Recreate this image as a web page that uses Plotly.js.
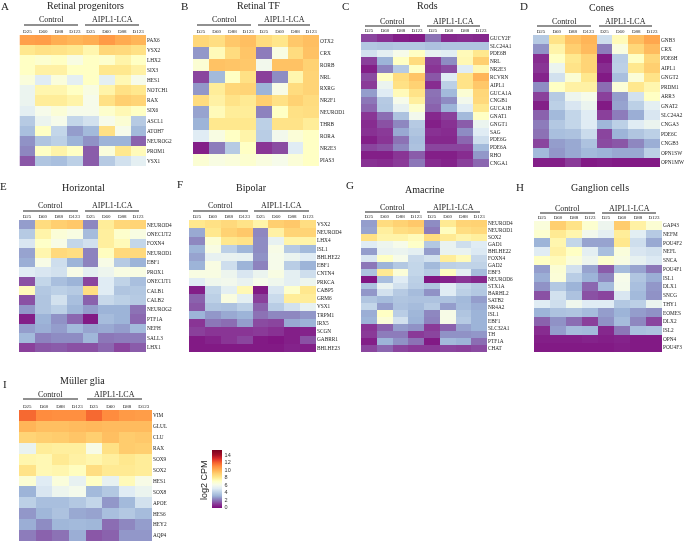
<!DOCTYPE html>
<html><head><meta charset="utf-8">
<script src="https://cdn.plot.ly/plotly-3.0.1.min.js"></script>
<style>html,body{margin:0;padding:0;background:#fff}#chart{filter:blur(0.4px)}</style></head>
<body><div id="chart" style="width:685px;height:542px"></div>
<script>
const timepoints=['D25','D60','D88','D123','D25 ','D60 ','D88 ','D123 '];
const groupNames=['Control','AIPL1-LCA'];
const colorValues=[0,0.8,1.5,2.3,3,4,5,6,7,8,9,10,11,12,13,14,15.35];
const colorHex=['#7e0a7c','#8a3a98','#8a62ad','#8e8cc3','#9db4d8','#bcd0e6','#e0ecf4','#f6fbea','#ffffc4','#ffe88e','#ffcf70','#ffae52','#ff8c3e','#f4602e','#dc2a2a','#a50f26','#7a0020'];

const genesA=['PAX6','VSX2','LHX2','SIX3','HES1','NOTCH1','RAX','SIX6','ASCL1','ATOH7','NEUROG2','PROM1','VSX1'];
const valuesA=[
[10.4,10.5,10,9.8,10,10.6,10.1,9.8],[8,8.3,8.2,8,7.4,8.7,8.6,8.3],[7,6.7,7,6.2,7,6.8,7.5,7],[7,7.6,7.6,7,7,8,8,7.6],
[6.4,5,6.4,5.2,7,5.2,7.3,6],[5.5,7.4,7.4,7,6.2,7.5,8.3,8],[5.5,7.8,7.8,7.5,6,8.3,9,8.8],[5.2,6,6.5,6,6,6.8,7.3,7],
[3.8,5.5,6,4.2,4.6,6,6.6,3.8],[3.4,7,4.2,2.6,3.2,8.3,6,3.2],[2.4,3.6,4,3,2.4,3,3,1.5],[2.2,7,7.5,7,1.4,6.4,8,7.2],[1.3,3.6,3.4,4,1.4,3.8,4.6,5.2]];

const genesB=['OTX2','CRX','RORB','NRL','RXRG','NR2F1','NEUROD1','THRB','RORA','NR2E3','PIAS3'];
const valuesB=[
[8.7,8.4,9.2,9.5,8.5,8.1,9.2,9.5],[2.5,7.2,8.5,9.3,2,6.2,8.5,9.4],[6.6,9.4,9.3,9.2,5.8,9.4,9.4,8.9],[1,3.2,7,8.3,0.9,2.3,7.4,8.8],
[2.5,7.8,8.7,8.8,3,6.1,8.5,8.8],[8.5,7.6,8.2,7.9,9,8.3,8.9,8.5],[2.7,7.2,7.8,7.8,2.1,7,8.3,8.4],[3,8,8,8,4,8.2,8.2,7.8],
[5,6.2,7,7.5,3.9,5.8,6.5,7],[0.2,2,3.8,7,0.7,1.1,5,7],[6.6,6.2,6.4,6.7,6.3,6,6.5,7]];

const genesC=['GUCY2F','SLC24A1','PDE6B','NRL','NR2E3','RCVRN','AIPL1','GUCA1A','CNGB1','GUCA1B','GNAT1','GNGT1','SAG','PDE6G','PDE6A','RHO','CNGA1'];
const valuesC=[
[1,0.6,0.2,0.1,1.8,0.4,0.5,0.4],[3.7,3.6,3.7,3.7,3.5,3.6,3.6,3.6],[4.6,5.2,6,7,5.3,5.1,7.2,8],[0.9,3,7,8.5,0.9,2.3,7.3,9],
[0.2,2.1,3.8,7,0.7,1.1,5,7.3],[1.1,7,8.5,9.3,1.3,5,8.2,9.8],[0.8,5.5,8.3,8.9,0.5,4,8.2,9.2],[2.6,5,7.2,8.2,1.8,3.2,6.6,8.7],
[1.9,3.8,6,7.7,1.7,2.3,5.8,8.6],[1.6,3.7,5.3,6.8,1.5,3,5,8],[0.7,1.7,3.5,5.8,0.4,0.9,3.2,7],[0.5,1.2,2.2,3.8,0.2,0.6,1.4,5.5],
[0.6,0.8,2.8,3.6,0.6,0.5,2.3,5],[0.2,0.7,1.8,3.4,0.4,0.4,1.6,4.5],[1,1.2,2.2,3.5,1,1,1,3.2],[0.2,0.2,0.7,1.4,0.2,0.2,0.5,2.5],[0.6,0.5,0.8,1.9,0.5,0.3,0.9,1.6]];

const genesD=['GNB3','CRX','PDE6H','AIPL1','GNGT2','PRDM1','ARR3','GNAT2','SLC24A2','CNGA3','PDE6C','CNGB3','OPN1SW','OPN1MW'];
const valuesD=[
[3.8,8.2,9.4,9.8,4.5,7.2,9.5,10.2],[2.4,7.5,9,9.6,2,6.3,8.7,9.6],[0.5,7,8,8.8,0.1,3.9,7,8.7],[0.7,5.5,8.2,8.8,0.5,4,8,9],
[0.3,4.6,6.6,8,0.1,3.4,6.5,8.2],[2.3,7,7.6,7.6,1.7,6.5,8,7.4],[0.9,3.8,5.6,6,0.9,2.6,4.6,7],[0.2,4,4.8,5.5,0.1,2.7,4,5.2],
[1.5,3.2,4.2,5,0.9,2,2.9,4.8],[2,3.7,4.2,5,3.1,4,5,5.5],[1.8,3.4,3.5,4.4,1,3,3.6,4],[1,2.6,2.8,3.5,1.1,1.3,2.2,2.9],
[3.2,2.5,2.8,3.2,3,2.8,2.8,4],[0.2,0.2,0.8,0.1,0.2,0.1,0.1,0.1]];

const genesE=['NEUROD4','ONECUT2','FOXN4','NEUROD1','EBF1','PROX1','ONECUT1','CALB1','CALB2','NEUROG2','PTF1A','NEFH','SALL3','LHX1'];
const valuesE=[
[2.6,8.5,9,9.2,2.2,7.8,8.7,8.8],[3.8,7.5,6.5,6.2,3.3,7.7,6.8,6.2],[4.8,6.9,6.1,4.2,4.6,7.7,7.2,4.2],[2.7,7.4,8.6,8.4,2.1,7.1,8.6,8.6],
[2.9,6.1,4.5,3,2.1,6.1,3.8,3],[5,4.8,4.6,6.1,5.2,5.6,6.2,6.2],[1.2,4.2,3.4,3,1,5,4.1,3.4],[7.2,3.7,4,3.8,8.4,5,3.6,3.7],
[1.2,3.6,4.6,3.4,1.5,4.3,4,3.8],[2.5,3.6,4,3.1,2.6,3,3,1.8],[0.2,3,2.4,1.6,0.1,3.3,3,1.6],[2.6,2.9,2.6,3.2,2.7,2.8,2.6,3.2],
[3.2,2.1,2.3,2.3,3.1,1.9,2,2],[0.9,1.3,1.4,1.2,1.2,1.6,1,1.4]];

const genesF=['VSX2','NEUROD4','LHX4','ISL1','BHLHE22','EBF1','CNTN4','PRKCA','CABP5','GRM6','VSX1','TRPM1','IRX5','SCGN','GABRR1','BHLHE23'];
const valuesF=[
[8,8.3,8.6,8.2,7.5,9,9.2,8.4],[2.8,8,8.9,9.2,2.2,7.6,8.8,8.8],[2.2,6.6,8,8.2,2.3,5.3,7.5,7.5],[3,6.2,4,3.1,2.3,6.1,3.8,3.2],
[2.7,5.3,5.4,5.3,2.4,6,5.5,5],[3,6.2,4.5,3,2.1,6,3.9,3],[6.2,6.2,5.6,4.8,5.5,6.2,5.2,4.5],[5,5.7,5.8,5.4,6,5.7,5.2,5.6],
[0.2,4.2,5.2,7.3,0.1,4.8,6.8,8],[1.5,4,6.3,5.2,0.9,4.4,7.8,7.8],[1.3,3.6,3.5,4,1.5,3.9,4.6,5.3],[3,2.5,2.8,3,1.8,2.2,2.2,2.5],
[0.7,1.9,1.7,2.6,1.1,1,2.8,3],[0.9,0.7,0.7,0.7,0.8,0.6,0.2,0.3],[0.1,0.3,0.7,1,0.1,0,0.2,1.2],[0.1,0.1,0.1,0.1,0.1,0.1,0.3,0.2]];

const genesG=['NEUROD4','NEUROD1','SOX2','GAD1','BHLHE22','FOXN4','GAD2','EBF3','NEUROD6','STX1A','BARHL2','SATB2','NR4A2','ISL1','EBF1','SLC32A1','TH','PTF1A','CHAT'];
const valuesG=[
[2.6,8.5,8.9,9.2,2.3,7.9,8.8,8.9],[2.7,7.7,8.4,8.6,2,7.1,8.4,8.6],[8.3,7.5,7.5,7.2,8.5,7.9,7.5,7.7],[5,5.6,6,6.9,3.7,5.4,4.5,5],
[2.6,5.4,5.5,5.2,2.6,5.4,5.4,4.9],[4.8,7,6,4.3,4.6,7.8,7.2,4.3],[1.9,3,3.7,4.2,3.2,4,4.1,4.1],[3.5,7.9,6.5,4.2,3.8,7.1,5.2,3.3],
[0,3.4,5,4,0,0.3,0.7,0.4],[3.5,5.4,4.6,3.9,3.6,5,4.2,3.8],[2.5,4.6,3.8,3.3,2.4,5,4,3.7],[3.6,3.3,3.6,3.5,3.5,3.5,3.2,2.6],
[4.2,2.6,3.5,3.3,3.8,2.6,3.3,2.9],[2.9,7,3.9,3.1,2.2,6.1,3.6,3],[3,6.5,4.6,3,2.1,6.1,3.8,3],[0.7,1.5,2.6,2.4,0.8,1.5,2.7,3],
[0.8,2,2,0.8,1,2.4,2.4,2.5],[0.2,3,2.4,1.8,0.1,3.2,3,1.7],[1,1.6,1,0.8,0.8,1,0.9,1.1]];

const genesH=['GAP43','NEFM','POU4F2','NEFL','SNCA','POU4F1','ISL1','DLX1','SNCG','THY1','EOMES','DLX2','ISL2','OPN4','POU4F3'];
const valuesH=[
[6.4,9,8.2,6.7,5.6,9.1,7.6,6.6],[6.7,7.9,7.4,5.8,5.2,7.8,5.1,3.8],[3,7.4,4.2,2.7,2.7,8,4.5,2.8],[5,7.6,7,5.2,3.4,6.4,4.8,4.6],
[7,7.2,6.4,5.6,6.8,6.2,5.3,4.9],[2.6,6.6,4.6,2.7,1.4,3.3,2.7,1.9],[2.9,6.5,3.9,3,2.2,6,3.6,2.9],[2.4,3.7,3,1.6,3.3,5.9,3.4,2.5],
[1.2,4.6,3.5,1.2,1,4.8,3.2,2.4],[5,4.5,5.7,5,5,3.7,4,5.5],[3,3.5,3.6,3.3,2.6,3,2.6,2.4],[1.5,2.4,1.7,0.9,2.4,3.3,2.2,1],
[0.5,2.6,3.3,3.2,0.4,1.9,3.4,3.5],[0.2,0.2,0.2,0.3,0.2,0.3,0.1,0.1],[0.1,0.1,0.1,0.1,0.1,0.2,0.1,0.1]];

const genesI=['VIM','GLUL','CLU','RAX','SOX9','SOX2','HES1','SOX8','APOE','HES6','HEY2','AQP4'];
const valuesI=[
[11.8,11,10.9,10.9,11.8,11,10.6,10.5],[9.8,9.5,9.5,9.6,9.7,9.6,9.6,9.6],[8.8,9,9.1,9.3,9,9.5,9.1,9.2],[5.4,7.8,7.7,7.7,6.1,8.3,9.1,9],
[7.4,7.3,7.9,7.6,7.4,7.7,8,7.8],[8.2,7.3,7.4,7.1,8.4,7.9,7.9,7.8],[6.6,5,6.4,5.3,7,5.3,7.2,6.1],[3,4.8,5.6,5.9,3.2,3.7,5,5.5],
[4,3.4,3.4,3.7,4.2,2.5,3.2,4.6],[2.5,3.1,3.5,2.8,2.7,3.4,3.7,3.3],[2.9,2.3,3.1,3.2,3.1,1.7,2.2,2.6],[2,1.5,1.8,2.9,1.3,1.5,2.5,2.5]];

// Panel placement in page pixels.
const panels=[
 {tag:'A',title:'Retinal progenitors',genes:genesA,values:valuesA,box:[19.5,146,35,166],tx:85,ty:6,lx:5,ly:6,lines:[24,78,85,139],hy:25,ky:30},
 {tag:'B',title:'Retinal TF',genes:genesB,values:valuesB,box:[193,319,35,166],tx:258,ty:6,lx:184,ly:6,lines:[197,251,258,310],hy:25,ky:30},
 {tag:'C',title:'Rods',genes:genesC,values:valuesC,box:[361,489,34,167],tx:427,ty:6,lx:345,ly:6,lines:[365,420,427,480],hy:26,ky:31},
 {tag:'D',title:'Cones',genes:genesD,values:valuesD,box:[533,660,35,167],tx:601,ty:7,lx:524,ly:6,lines:[537,591,599,652],hy:26,ky:31},
 {tag:'E',title:'Horizontal',genes:genesE,values:valuesE,box:[19,146,220,352],tx:83,ty:188,lx:3.5,ly:186,lines:[23,78,85,139],hy:211,ky:216},
 {tag:'F',title:'Bipolar',genes:genesF,values:valuesF,box:[189,316,220,352],tx:252,ty:188,lx:180,ly:184,lines:[193,248,254,309],hy:211,ky:216},
 {tag:'G',title:'Amacrine',genes:genesG,values:valuesG,box:[361,487,220,352],tx:425,ty:189,lx:350,ly:185,lines:[365,420,427,480],hy:212,ky:216},
 {tag:'H',title:'Ganglion cells',genes:genesH,values:valuesH,box:[534,662,221,352],tx:600,ty:188,lx:520,ly:187,lines:[540,595,602,656],hy:213,ky:218},
 {tag:'I',title:'Müller glia',genes:genesI,values:valuesI,box:[19,152,410,541],tx:82,ty:380,lx:5,ly:384,lines:[23,78,87,142],hy:399,ky:406}
];
const W=685,H=542,serif='"Liberation Serif",serif',ink='#222';
const px=x=>x/W, py=y=>1-y/H;
const cmin=colorValues[0]-0.25, cmax=colorValues[colorValues.length-1];
const colorscale=colorValues.map((v,i)=>[(v-cmin)/(cmax-cmin),colorHex[i]]);
colorscale[0][0]=0;
const traces=[],annotations=[],shapes=[];
const layout={width:W,height:H,margin:{l:0,r:0,t:0,b:0},paper_bgcolor:'#fff',plot_bgcolor:'#fff',showlegend:false,
 coloraxis:{cmin:cmin,cmax:cmax,colorscale:colorscale,colorbar:{x:px(212),xanchor:'left',xpad:0,ypad:0,y:py(479),yanchor:'middle',
  thickness:10,thicknessmode:'pixels',len:58,lenmode:'pixels',outlinewidth:0,tickmode:'array',tickvals:[0,2,4,6,8,10,12,14],ticks:'outside',ticklen:2,tickcolor:'rgba(255,255,255,0)',
  tickfont:{family:'"Liberation Sans",sans-serif',size:5.5,color:'#333'}}},
 annotations:annotations,shapes:shapes};
const txt=(text,x,y,size,extra)=>annotations.push(Object.assign({text:text,x:px(x),y:py(y),xref:'paper',yref:'paper',showarrow:false,xanchor:'center',yanchor:'middle',font:{family:serif,size:size,color:ink}},extra||{}));
panels.forEach((p,i)=>{
 const n=i+1,s=n===1?'':n;
 traces.push({type:'heatmap',x:timepoints,y:p.genes,z:p.values,coloraxis:'coloraxis',xaxis:'x'+s,yaxis:'y'+s,xgap:0,ygap:0,hoverongaps:false});
 layout['xaxis'+s]={domain:[px(p.box[0]),px(p.box[1])],anchor:'y'+s,type:'category',side:'top',tickmode:'array',tickvals:timepoints,ticktext:timepoints.map(t=>t.trim()),ticks:'',showgrid:false,zeroline:false,showline:false,tickangle:0,tickfont:{family:serif,size:5,color:ink},automargin:false,fixedrange:true};
 layout['yaxis'+s]={domain:[py(p.box[3]),py(p.box[2])],anchor:'x'+s,type:'category',side:'right',autorange:'reversed',tickmode:'array',tickvals:p.genes,ticktext:p.genes,ticks:'',showgrid:false,zeroline:false,showline:false,tickfont:{family:serif,size:5.3,color:ink},automargin:false,fixedrange:true};
 txt(p.title,p.tx,p.ty,10);
 txt(p.tag,p.lx,p.ly,11);
 [0,1].forEach(g=>{
  const a=p.lines[g*2],b=p.lines[g*2+1];
  shapes.push({type:'line',xref:'paper',yref:'paper',x0:px(a),x1:px(b),y0:py(p.hy),y1:py(p.hy),line:{color:ink,width:1.1}});
  txt(groupNames[g],(a+b)/2,p.hy-5,8);
 });
});
txt('log2 CPM',204,480,9.5,{textangle:-90,font:{family:'"Liberation Sans",sans-serif',size:9,color:ink}});
Plotly.newPlot('chart',traces,layout,{staticPlot:true,displayModeBar:false});
</script></body></html>
